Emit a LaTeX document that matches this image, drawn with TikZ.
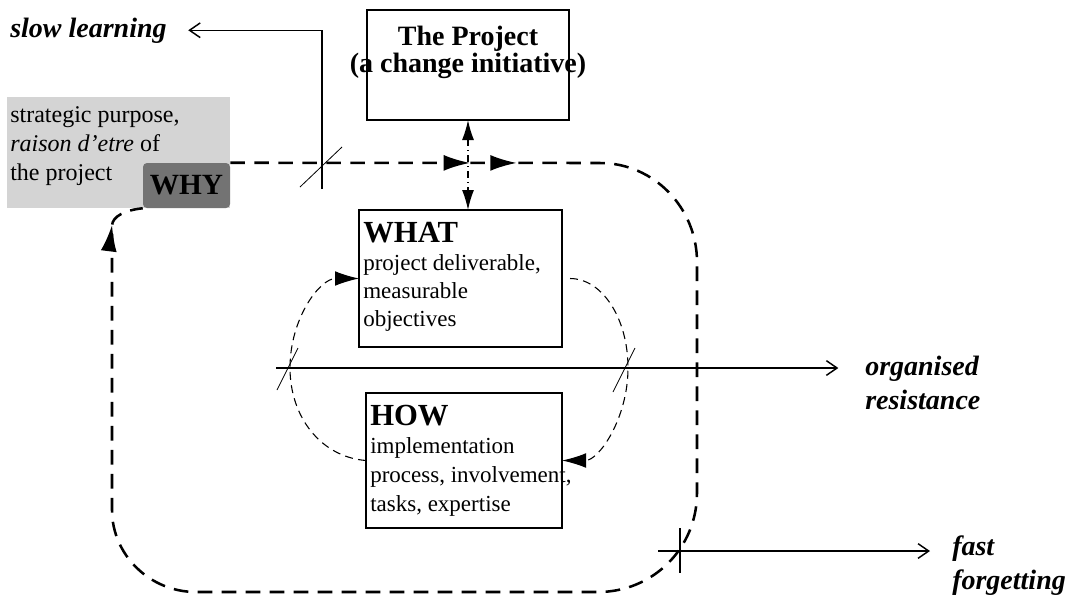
\documentclass[tikz,border=0pt]{standalone}
\usepackage{fontspec}
\setmainfont{Liberation Serif}
\usetikzlibrary{arrows.meta,decorations.markings}
\newcommand\fsz[2]{\fontsize{#1}{#2}\selectfont}

\begin{document}
\begin{tikzpicture}[x=0.75pt,y=0.75pt,
  box/.style={draw, line width=1.4pt, inner sep=0pt, outer sep=0pt},
  txt/.style={inner sep=0pt, anchor=base west},
  lbl/.style={inner sep=0pt, anchor=base west, font=\fsz{21}{26}\bfseries\itshape},
  bigloop/.style={line width=1.9pt, dash pattern=on 11pt off 7pt},
  smallloop/.style={line width=0.8pt, dash pattern=on 6pt off 4pt},
  solidline/.style={line width=1.1pt},
  ticks/.style={line width=0.6pt},
  barb/.style={-{Straight Barb[length=8pt,width=11pt]}},
  myhead/.tip={Latex[length=20pt,width=12pt]},
  smallhead/.tip={Latex[length=18pt,width=11pt]},
  vhead/.tip={Latex[length=15pt,width=9pt]},
]
\useasboundingbox (0,0) rectangle (1073,-604);

% --- WHY: grey purpose field with the dark WHY tag ---
\node[fill=black!17, inner sep=0pt, minimum width=167.25pt, minimum height=83.25pt] (whyarea) at (118.5,-152.5) {};
\node[txt] (whytext) at (10,-122)
  {\parbox[t]{165pt}{\raggedright\fsz{18}{21.75}strategic purpose,\\\textit{raison d’etre} of\\the project}};
\node[fill=black!55, rounded corners=3pt, minimum width=65.25pt, minimum height=33.75pt,
      inner sep=0pt, font=\fsz{22}{22}\bfseries] (why) at (186.5,-185.5) {WHY};

% --- The project box ---
\node[box, minimum width=151.5pt, minimum height=82.5pt] (proj) at (468,-65) {};
\node[inner sep=0pt, anchor=base] (projtext) at (468,-45)
  {\parbox[t]{240pt}{\centering\fsz{21}{20.25}\bfseries The Project\\(a change initiative)}};

% --- WHAT box ---
\node[box, minimum width=152.25pt, minimum height=102.75pt] (what) at (460.5,-278.5) {};
\node[txt] (whattext) at (363,-242)
  {\parbox[t]{160pt}{\raggedright\fsz{17.25}{21}{\fsz{23}{21}\bfseries WHAT}\\project deliverable,\\measurable\\objectives}};

% --- HOW box ---
\node[box, minimum width=147pt, minimum height=101.25pt] (how) at (464,-460.5) {};
\node[txt] (howtext) at (370,-425)
  {\parbox[t]{170pt}{\raggedright\fsz{17.25}{21.5}{\fsz{23}{21.5}\bfseries HOW}\\implementation\\process, involvement,\\tasks, expertise}};

% --- outcome labels ---
\node[lbl] (slow) at (10,-37) {slow learning};
\node[lbl] (org) at (865,-375) {\parbox[t]{120pt}{organised\\resistance}};
\node[lbl] (fast) at (952,-555) {\parbox[t]{120pt}{fast\\forgetting}};

% --- outer learning loop WHY -> ... -> WHY ---
\draw[bigloop, postaction={decorate}, decoration={markings,
    mark=at position 180pt with {\arrow{myhead}},
    mark=at position 215pt with {\arrow{myhead}},
    mark=at position 0.979 with {\arrow{myhead}}}]
  (why.north east) -- (600,-163) .. controls (654,-163) and (697,-208) .. (697,-262)
  -- (697,-493) .. controls (697,-548) and (653,-592) .. (598,-592)
  -- (196,-592) .. controls (150,-592) and (112,-555) .. (112,-510)
  -- (112,-226) .. controls (112,-216) and (126,-210) .. (why.south west);

% --- project <-> WHAT ---
\draw[line width=1pt, dash pattern=on 5pt off 3pt on 1pt off 3pt, {vhead}-{vhead}]
  (proj.south) -- (proj.south |- what.north);

% --- inner WHAT/HOW loop ---
\draw[smallloop, -{smallhead}] (how.west)
  .. controls (321,-457) and (290,-417) .. (290,-368)
  .. controls (290,-318) and (320,-278.5) .. (what.west);
\draw[smallloop, -{smallhead}, shorten <=6pt] (what.east)
  .. controls (602,-278.5) and (628,-318) .. (628,-368)
  .. controls (628,-418) and (599,-460.5) .. (how.east);

% --- breakdown arrows ---
\coordinate (slowfoot) at (322,-189);
\draw[solidline, barb, shorten >=16pt] (slowfoot) |- (slow);
\draw[ticks] (300,-187) -- (342,-147);

\coordinate (orgfoot) at (276,-368);
\draw[solidline, barb, shorten >=20pt] (orgfoot) -- (orgfoot -| org.west);
\draw[ticks] (277,-390) -- (298,-348);
\draw[ticks] (613,-392) -- (635,-348);

\coordinate (fastfoot) at (658,-551);
\draw[solidline, barb, shorten >=16.5pt] (fastfoot) -- (fastfoot -| fast.west);
\draw[solidline] (680,-528) -- (680,-573);
\end{tikzpicture}
\end{document}
